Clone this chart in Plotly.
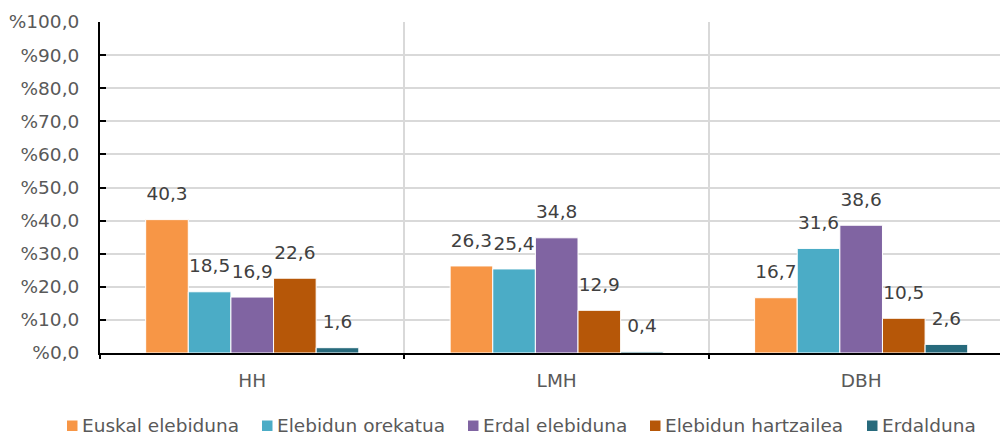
import plotly.graph_objects as go

# data
categories = ["HH", "LMH", "DBH"]
series_names = ["Euskal elebiduna", "Elebidun orekatua", "Erdal elebiduna",
                "Elebidun hartzailea", "Erdalduna"]
euskal_elebiduna = [40.3, 26.3, 16.7]
elebidun_orekatua = [18.5, 25.4, 31.6]
erdal_elebiduna = [16.9, 34.8, 38.6]
elebidun_hartzailea = [22.6, 12.9, 10.5]
erdalduna = [1.6, 0.4, 2.6]
colors = ["#F79646", "#4BACC6", "#8064A2", "#B65708", "#276A7C"]

values = [euskal_elebiduna, elebidun_orekatua, erdal_elebiduna,
          elebidun_hartzailea, erdalduna]

font_family = "DejaVu Sans, Verdana, sans-serif"
fsize = 18.5

# plot area in pixels (used to place the hand-made legend)
L, T, W, H = 100, 22, 900, 331


def px_x(p):
    return (p - L) / W


def px_y(p):
    return (T + H - p) / H


fig = go.Figure()
for name, vals, col in zip(series_names, values, colors):
    fig.add_trace(go.Bar(
        x=categories,
        y=vals,
        name=name,
        offsetgroup=name,
        marker=dict(color=col, line=dict(color="white", width=1)),
    ))

# value labels, as grouped scatter text so they sit a bit higher above the bars
for name, vals in zip(series_names, values):
    fig.add_trace(go.Scatter(
        x=categories,
        y=vals,
        offsetgroup=name,
        mode="markers+text",
        marker=dict(size=22, opacity=0),
        text=[f"{v:.1f}".replace(".", ",") for v in vals],
        textposition="top center",
        textfont=dict(family=font_family, size=fsize, color="#404040"),
        showlegend=False,
        hoverinfo="skip",
        cliponaxis=False,
    ))

# legend drawn by hand so the spacing matches (plotly's wraps it)
legend_x = [67, 262, 468, 650, 867]
for lx, name, col in zip(legend_x, series_names, colors):
    fig.add_shape(type="rect", xref="paper", yref="paper",
                  x0=px_x(lx), x1=px_x(lx + 10.5),
                  y0=px_y(431), y1=px_y(420.5),
                  fillcolor=col, line_width=0)
    fig.add_annotation(xref="paper", yref="paper",
                       x=px_x(lx + 13), y=px_y(425),
                       xanchor="left", yanchor="middle",
                       text=name, showarrow=False,
                       font=dict(size=fsize, color="#595959"))

fig.update_layout(
    width=1000,
    height=434,
    barmode="group",
    scattermode="group",
    bargap=0.30,
    bargroupgap=0,
    plot_bgcolor="white",
    paper_bgcolor="white",
    margin=dict(l=L, r=0, t=T, b=434 - T - H, autoexpand=False),
    font=dict(family=font_family, size=fsize, color="#595959"),
    showlegend=False,
)

fig.update_yaxes(
    range=[0, 100],
    dtick=10,
    tickprefix="%",
    tickformat=".1f",
    separatethousands=False,
    showgrid=True,
    gridcolor="#D9D9D9",
    gridwidth=2,
    showline=True,
    linecolor="black",
    linewidth=2,
    ticks="inside",
    ticklen=6,
    tickwidth=2,
    tickcolor="black",
    zeroline=False,
    ticklabelstandoff=15,
    tickfont=dict(size=fsize, color="#595959"),
)

fig.update_xaxes(
    range=[-0.5, 2.456],
    tickson="boundaries",
    showgrid=True,
    gridcolor="#D9D9D9",
    gridwidth=2,
    showline=True,
    linecolor="black",
    linewidth=2,
    ticks="outside",
    ticklen=4,
    tickwidth=2,
    tickcolor="black",
    ticklabelstandoff=10,
    tickfont=dict(size=fsize, color="#595959"),
)

fig.update_layout(separators=",.")

fig.write_html("out.html", config={"displayModeBar": False},
               post_script="document.body.style.margin='0px';")
